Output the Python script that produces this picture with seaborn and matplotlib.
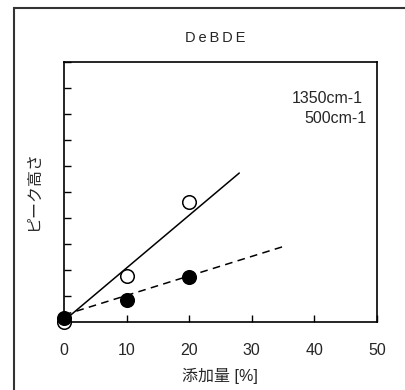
import matplotlib
matplotlib.use("Agg")
import matplotlib.pyplot as plt
import seaborn as sns
import pandas as pd
from matplotlib.patches import Rectangle

# measured peak heights vs additive content
additive = [0, 10, 20]
peak_1350 = [0.0, 1.78, 4.6]
peak_500 = [0.17, 0.85, 1.72]

# straight-line fits drawn over the points (end points)
fit_1350_x = [0, 28]
fit_1350_y = [0.05, 5.73]
fit_500_x = [0, 35]
fit_500_y = [0.27, 2.9]

x_ticks = [0, 10, 20, 30, 40, 50]
y_ticks = list(range(0, 11))

title = "D\u2009e\u2009B\u2009D\u2009E"
x_label = "添加量 [%]"
y_label = "ピーク高さ"
label_1350 = "1350cm-1"
label_500 = "500cm-1"

sns.set_style("ticks")
plt.rcParams["font.family"] = ["Liberation Sans", "Noto Sans CJK JP", "DejaVu Sans"]

fig = plt.figure(figsize=(4.05, 3.9), dpi=100)
ax = fig.add_axes([64 / 405, 1 - 322 / 390, 313 / 405, 260 / 390])

# outer frame
fig.patches.append(Rectangle((14 / 405, -0.1), 1.2, 0.1 + (390 - 8) / 390,
                             transform=fig.transFigure, fill=False,
                             edgecolor="#333333", linewidth=1.5, zorder=0))

df_fit1 = pd.DataFrame({"x": fit_1350_x, "y": fit_1350_y})
df_fit2 = pd.DataFrame({"x": fit_500_x, "y": fit_500_y})
sns.lineplot(data=df_fit1, x="x", y="y", ax=ax, color="black", linewidth=1.1,
             estimator=None, sort=False)
sns.lineplot(data=df_fit2, x="x", y="y", ax=ax, color="black", linewidth=1.1,
             linestyle=(0, (5, 3.5)), estimator=None, sort=False)

df1 = pd.DataFrame({"x": additive, "y": peak_1350})
df2 = pd.DataFrame({"x": additive, "y": peak_500})
sns.scatterplot(data=df1, x="x", y="y", ax=ax, s=95, facecolor="white",
                edgecolor="black", linewidth=1.1, zorder=3, clip_on=False)
sns.scatterplot(data=df2, x="x", y="y", ax=ax, s=95, color="black",
                edgecolor="black", linewidth=1.1, zorder=4, clip_on=False)

ax.set_xlim(0, 50)
ax.set_ylim(0, 10)
ax.set_xticks(x_ticks)
ax.set_xticklabels([str(t) for t in x_ticks], fontsize=11.5)
ax.set_yticks(y_ticks)
ax.set_yticklabels([])
ax.tick_params(axis="both", direction="in", length=5, width=1, color="black", pad=15)
for s in ax.spines.values():
    s.set_visible(True)
    s.set_linewidth(1.2)
    s.set_color("black")
ax.set_xlabel("")
ax.set_ylabel("")

ax.text(0.955, 0.858, label_1350, transform=ax.transAxes, ha="right", va="center", fontsize=11.5)
ax.text(0.965, 0.781, label_500, transform=ax.transAxes, ha="right", va="center", fontsize=11.5)

fig.text(215 / 405, 1 - 38 / 390, title, ha="center", va="center", fontsize=10.5)
fig.text(220 / 405, 1 - 376 / 390, x_label, ha="center", va="center", fontsize=11.5)
fig.text(34 / 405, 1 - 191 / 390, y_label, ha="center", va="center", rotation=90, fontsize=11.5)

fig.savefig("out.png", dpi=100)
